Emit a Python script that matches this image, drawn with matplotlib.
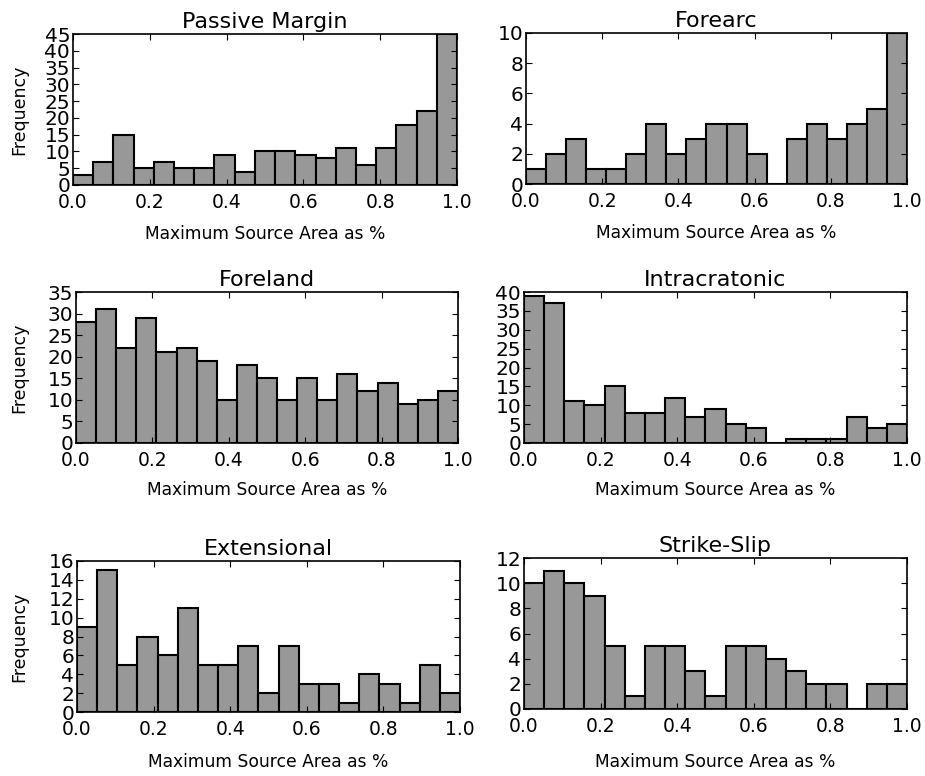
import numpy as np
import matplotlib.pyplot as plt

# histogram counts, 19 equal bins from 0 to 1
passive_margin = [3, 7, 15, 5, 7, 5, 5, 9, 4, 10, 10, 9, 8, 11, 6, 11, 18, 22, 45]
forearc = [1, 2, 3, 1, 1, 2, 4, 2, 3, 4, 4, 2, 0, 3, 4, 3, 4, 5, 10]
foreland = [28, 31, 22, 29, 21, 22, 19, 10, 18, 15, 10, 15, 10, 16, 12, 14, 9, 10, 12]
intracratonic = [39, 37, 11, 10, 15, 8, 8, 12, 7, 9, 5, 4, 0, 1, 1, 1, 7, 4, 5]
extensional = [9, 15, 5, 8, 6, 11, 5, 5, 7, 2, 7, 3, 3, 1, 4, 3, 1, 5, 2]
strike_slip = [10, 11, 10, 9, 5, 1, 5, 5, 3, 1, 5, 5, 4, 3, 2, 2, 0, 2, 2]

titles = ['Passive Margin', 'Forearc', 'Foreland', 'Intracratonic', 'Extensional', 'Strike-Slip']
series = [passive_margin, forearc, foreland, intracratonic, extensional, strike_slip]
ymax = [45, 10, 35, 40, 16, 12]
ystep = [5, 2, 5, 5, 2, 2]

W, H = 925, 776
# axes boxes in pixels: left, right, top, bottom
boxes = [(73, 457, 34, 185), (526, 907, 33, 184),
         (76, 458, 292, 443), (524, 907, 292, 443),
         (77, 460, 561, 712), (524, 907, 558, 709)]
# distance (px) from axes bottom to the x label centre
xlab_off = [48, 48, 46, 46, 49, 52]

fig = plt.figure(figsize=(W / 100, H / 100), dpi=100)

edges = np.linspace(0, 1, 20)
width = edges[1] - edges[0]

for i, (title, counts) in enumerate(zip(titles, series)):
    l, r, t, b = boxes[i]
    aw, ah = r - l, b - t
    ax = fig.add_axes([l / W, 1 - b / H, aw / W, ah / H])
    ax.bar(edges[:-1], counts, width=width, align='edge',
           color='#989898', edgecolor='black', linewidth=1.5)
    ax.set_xlim(0, 1)
    ax.set_ylim(0, ymax[i])
    ax.set_xticks(np.arange(0, 1.01, 0.2))
    ax.set_xticklabels(['0.0', '0.2', '0.4', '0.6', '0.8', '1.0'])
    ax.set_yticks(np.arange(0, ymax[i] + 1, ystep[i]))
    ax.tick_params(direction='in', top=True, right=True, length=4)
    ax.tick_params(axis='x', labelsize=13.5, pad=6)
    ax.tick_params(axis='y', labelsize=14.5, pad=2)
    for s in ax.spines.values():
        s.set_linewidth(1.2)
    ax.set_title(title, fontsize=16, pad=4)
    ax.set_xlabel('Maximum Source Area as %', fontsize=12.3)
    ax.xaxis.set_label_coords(0.5, -(xlab_off[i] - 8) / ah)
    if i % 2 == 0:
        ax.set_ylabel('Frequency', fontsize=12.5)
        ax.yaxis.set_label_coords((28 - l) / aw, 0.5)

plt.savefig('out.png', dpi=100)
